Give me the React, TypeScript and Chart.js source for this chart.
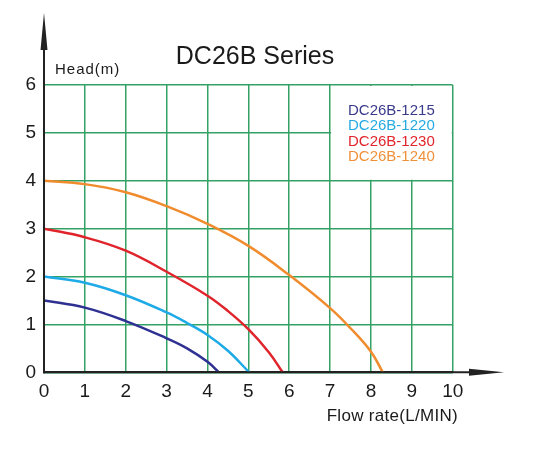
import React, { useEffect, useRef } from "react";
import { Chart, registerables } from "chart.js";

Chart.register(...registerables);

const titleText = "DC26B Series";
const yAxisTitle = "Head(m)";
const xAxisTitle = "Flow rate(L/MIN)";

const seriesNames = ["DC26B-1215", "DC26B-1220", "DC26B-1230", "DC26B-1240"];
const seriesColors = ["#2e3192", "#1eaae7", "#e0242b", "#f08c2e"];
const legendColors = ["#3a3a8c", "#25aae2", "#e2242b", "#f0913a"];

const flow1215 = [0, 1, 2, 3, 3.5, 4, 4.28];
const head1215 = [1.5, 1.35, 1.07, 0.71, 0.5, 0.22, 0];
const flow1220 = [0, 1, 2, 3, 3.5, 4, 4.5, 5.02];
const head1220 = [2.0, 1.87, 1.61, 1.25, 1.03, 0.78, 0.45, 0];
const flow1230 = [0, 1, 2, 3, 4, 4.5, 5, 5.5, 5.84];
const head1230 = [3.0, 2.82, 2.54, 2.1, 1.6, 1.28, 0.9, 0.42, 0];
const flow1240 = [0, 1, 2, 3, 4, 5, 6, 7, 7.5, 8, 8.29];
const head1240 = [4.0, 3.93, 3.76, 3.47, 3.1, 2.64, 2.03, 1.34, 0.92, 0.43, 0];

const flows = [flow1215, flow1220, flow1230, flow1240];
const heads = [head1215, head1220, head1230, head1240];

const xMin = 0, xMax = 10, xStep = 1;
const yMin = 0, yMax = 6, yStep = 1;
// legend box region (blank area in the grid)
const boxX = [7, 10];
const boxY = [4, 6];

const FONT = "'Liberation Sans', Arial, sans-serif";
const GRID = "#34a265";
const AXIS = "#222222";

const overlay = {
  id: "overlay",
  beforeDatasetsDraw(chart: any) {
    const { ctx, scales } = chart;
    const x = scales.x, y = scales.y;
    const l = x.getPixelForValue(boxX[0]) + 1;
    const r = x.getPixelForValue(boxX[1]) - 1;
    const t = y.getPixelForValue(boxY[1]) + 1;
    const b = y.getPixelForValue(boxY[0]) - 1;
    ctx.save();
    ctx.fillStyle = "#ffffff";
    ctx.fillRect(l, t, r - l, b - t);
    ctx.restore();
  },
  afterDraw(chart: any) {
    const { ctx, scales } = chart;
    const x = scales.x, y = scales.y;
    const x0 = x.getPixelForValue(xMin);
    const y0 = y.getPixelForValue(yMin);
    ctx.save();
    // y axis extension + arrow
    ctx.strokeStyle = AXIS;
    ctx.lineWidth = 2;
    ctx.beginPath();
    ctx.moveTo(x0, y0);
    ctx.lineTo(x0, 45);
    ctx.stroke();
    ctx.fillStyle = AXIS;
    ctx.beginPath();
    ctx.moveTo(x0, 13);
    ctx.lineTo(x0 - 3.5, 50);
    ctx.lineTo(x0 + 3.5, 50);
    ctx.closePath();
    ctx.fill();
    // x axis extension + arrow
    ctx.beginPath();
    ctx.moveTo(x0, y0);
    ctx.lineTo(472, y0);
    ctx.stroke();
    ctx.beginPath();
    ctx.moveTo(504, y0);
    ctx.lineTo(469, y0 - 3.5);
    ctx.lineTo(469, y0 + 3.5);
    ctx.closePath();
    ctx.fill();

    // title
    ctx.fillStyle = "#1a1a1a";
    ctx.font = `25px ${FONT}`;
    ctx.textAlign = "center";
    ctx.textBaseline = "alphabetic";
    ctx.fillText(titleText, 255, 64);

    // y axis title
    ctx.font = `15px ${FONT}`;
    ctx.textAlign = "left";
    (ctx as any).letterSpacing = "1px";
    ctx.fillText(yAxisTitle, 55, 74);

    // x axis title
    ctx.font = `17px ${FONT}`;
    (ctx as any).letterSpacing = "0.3px";
    ctx.textAlign = "right";
    ctx.fillText(xAxisTitle, 458, 421);
    (ctx as any).letterSpacing = "0px";

    // legend
    ctx.font = `15px ${FONT}`;
    ctx.textAlign = "left";
    ctx.textBaseline = "middle";
    chart.data.datasets.forEach((ds: any, i: number) => {
      ctx.fillStyle = legendColors[i];
      ctx.fillText(ds.label, 348, 111 + i * 15.2);
    });
    ctx.restore();
  },
};

export default function App() {
  const ref = useRef<HTMLCanvasElement | null>(null);
  useEffect(() => {
    document.body.style.margin = "0";
    const canvas = ref.current!;
    const chart = new Chart(canvas, {
      type: "line",
      data: {
        datasets: seriesNames.map((name, i) => ({
          label: name,
          data: flows[i].map((f, j) => ({ x: f, y: heads[i][j] })),
          borderColor: seriesColors[i],
          backgroundColor: seriesColors[i],
          borderWidth: 2.5,
          pointRadius: 0,
          tension: 0.4,
          capBezierPoints: false,
          fill: false,
        })),
      },
      options: {
        responsive: false,
        animation: false,
        devicePixelRatio: 1,
        layout: { padding: { left: 0, top: 85, right: 534 - 452.7, bottom: 0 } },
        plugins: {
          legend: { display: false },
          title: { display: false },
          tooltip: { enabled: false },
        },
        scales: {
          x: {
            type: "linear",
            min: xMin,
            max: xMax,
            afterFit(scale: any) {
              scale.height = 460 - 372.3;
            },
            ticks: {
              stepSize: xStep,
              padding: 8,
              color: "#1a1a1a",
              font: { family: FONT, size: 19 },
              maxRotation: 0,
              autoSkip: false,
            },
            grid: { color: GRID, lineWidth: 1.5, drawTicks: false },
            border: { color: AXIS, width: 2 },
          },
          y: {
            type: "linear",
            min: yMin,
            max: yMax,
            afterFit(scale: any) {
              scale.width = 44;
            },
            ticks: {
              stepSize: yStep,
              padding: 8,
              color: "#1a1a1a",
              font: { family: FONT, size: 19 },
            },
            grid: { color: GRID, lineWidth: 1.5, drawTicks: false },
            border: { color: AXIS, width: 2 },
          },
        },
      },
      plugins: [overlay],
    });
    return () => chart.destroy();
  }, []);
  return (
    <div style={{ width: 534, height: 460 }}>
      <canvas ref={ref} width={534} height={460} />
    </div>
  );
}
